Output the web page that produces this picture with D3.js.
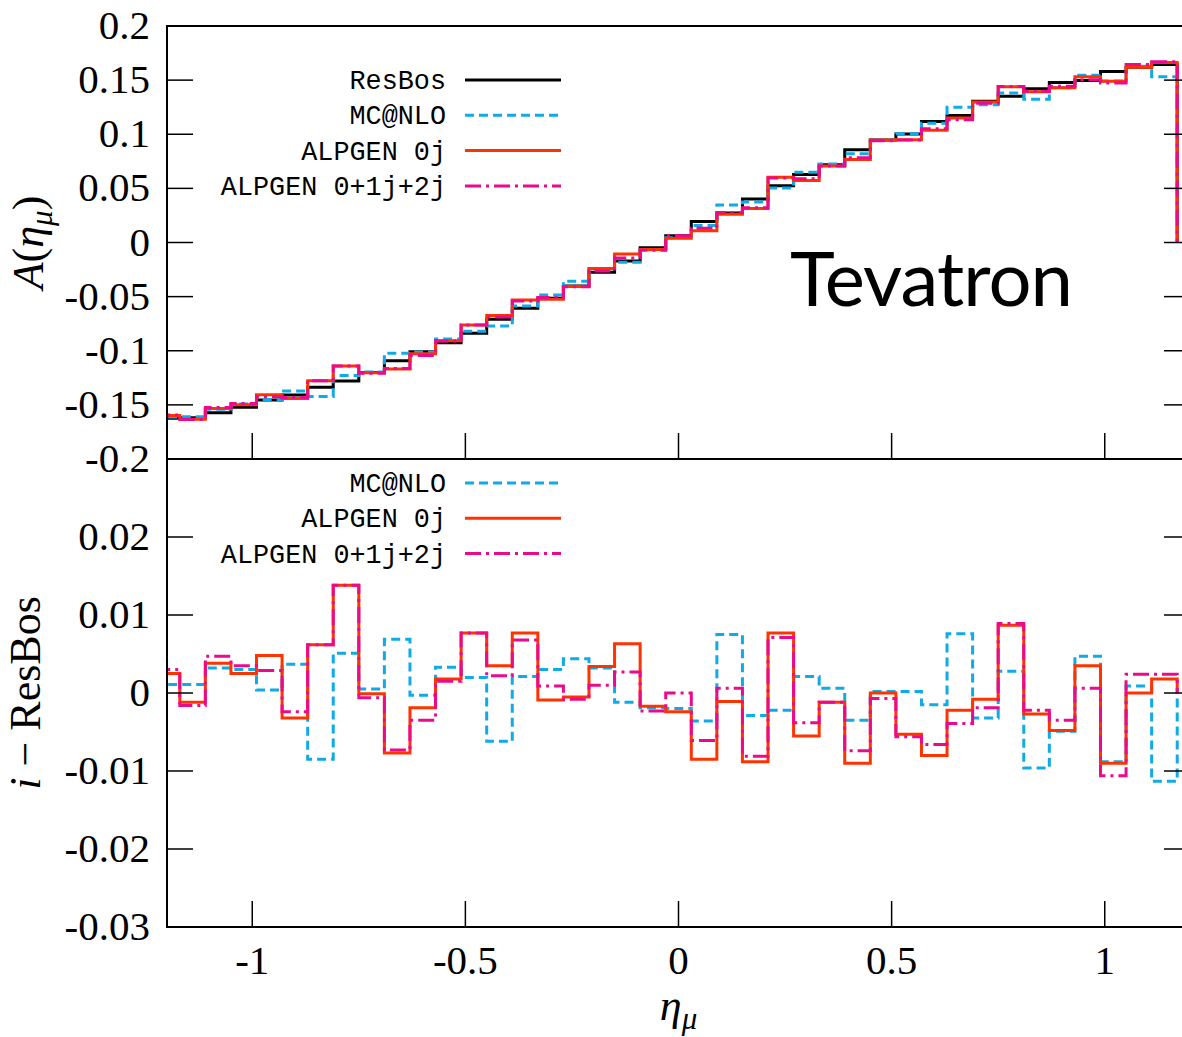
<!DOCTYPE html>
<html>
<head>
<meta charset="utf-8">
<script src="https://cdn.jsdelivr.net/npm/d3@7"></script>
<style>
  html, body { margin: 0; padding: 0; background: #fff; }
  svg { display: block; }
</style>
</head>
<body>
<svg id="chart" width="1182" height="1037"></svg>
<script>
// Bin centres in pseudorapidity (bin width 0.06)
const etaCenters = [-1.20, -1.14, -1.08, -1.02, -0.96, -0.90, -0.84, -0.78, -0.72, -0.66,
                    -0.60, -0.54, -0.48, -0.42, -0.36, -0.30, -0.24, -0.18, -0.12, -0.06,
                     0.00,  0.06,  0.12,  0.18,  0.24,  0.30,  0.36,  0.42,  0.48,  0.54,
                     0.60,  0.66,  0.72,  0.78,  0.84,  0.90,  0.96,  1.02,  1.08,  1.14];
const binWidth = 0.06;

// Muon charge asymmetry A(eta_mu)
const resbos = [-0.1624, -0.1620, -0.1572, -0.1523, -0.1455, -0.1409, -0.1338, -0.1280, -0.1202, -0.1092,
                -0.1009, -0.0925, -0.0839, -0.0710, -0.0608, -0.0516, -0.0401, -0.0274, -0.0170, -0.0048,
                 0.0063,  0.0193,  0.0272,  0.0402,  0.0525,  0.0628,  0.0719,  0.0856,  0.0947,  0.1003,
                 0.1117,  0.1173,  0.1305,  0.1352,  0.1420,  0.1478,  0.1497,  0.1580,  0.1620,  0.1645];
const mcnlo  = [-0.1613, -0.1609, -0.1540, -0.1493, -0.1451, -0.1372, -0.1423, -0.1229, -0.1197, -0.1023,
                -0.1012, -0.0892, -0.0819, -0.0772, -0.0587, -0.0486, -0.0357, -0.0242, -0.0182, -0.0067,
                 0.0043,  0.0157,  0.0347,  0.0373,  0.0503,  0.0649,  0.0725,  0.0821,  0.0949,  0.1005,
                 0.1102,  0.1249,  0.1273,  0.1380,  0.1324,  0.1429,  0.1544,  0.1492,  0.1629,  0.1532];
const alpgen0j = [-0.1599, -0.1632, -0.1534, -0.1498, -0.1407, -0.1441, -0.1276, -0.1142, -0.1203, -0.1169,
                  -0.1028, -0.0907, -0.0762, -0.0675, -0.0531, -0.0525, -0.0406, -0.0240, -0.0107, -0.0065,
                   0.0039,  0.0108,  0.0261,  0.0314,  0.0602,  0.0573,  0.0707,  0.0766,  0.0947,  0.0950,
                   0.1037,  0.1151,  0.1297,  0.1439,  0.1393,  0.1430,  0.1532,  0.1490,  0.1620,  0.1663];
const alpgen012j = [-0.1594, -0.1636, -0.1525, -0.1488, -0.1426, -0.1433, -0.1276, -0.1142, -0.1208, -0.1165,
                    -0.1044, -0.0910, -0.0762, -0.0688, -0.0540, -0.0507, -0.0409, -0.0264, -0.0143, -0.0071,
                     0.0063,  0.0132,  0.0278,  0.0321,  0.0596,  0.0590,  0.0707,  0.0782,  0.0940,  0.0947,
                     0.1051,  0.1134,  0.1286,  0.1441,  0.1398,  0.1443,  0.1503,  0.1474,  0.1644,  0.1669];

// Differences with respect to ResBos
const mcnloDiff = [ 0.0011,  0.0011,  0.0032,  0.0030,  0.0004,  0.0037, -0.0085,  0.0051,  0.0005,  0.0069,
                   -0.0003,  0.0033,  0.0020, -0.0062,  0.0021,  0.0030,  0.0044,  0.0032, -0.0012, -0.0019,
                   -0.0020, -0.0036,  0.0075, -0.0029, -0.0022,  0.0021,  0.0006, -0.0035,  0.0002,  0.0002,
                   -0.0015,  0.0076, -0.0032,  0.0028, -0.0096, -0.0049,  0.0047, -0.0088,  0.0009, -0.0113];
const alpgen0jDiff = [ 0.0025, -0.0012,  0.0038,  0.0025,  0.0048, -0.0032,  0.0062,  0.0138, -0.0001, -0.0077,
                      -0.0019,  0.0018,  0.0077,  0.0035,  0.0077, -0.0009, -0.0005,  0.0034,  0.0063, -0.0017,
                      -0.0024, -0.0085, -0.0011, -0.0088,  0.0077, -0.0055, -0.0012, -0.0090,  0.0000, -0.0053,
                      -0.0080, -0.0022, -0.0008,  0.0087, -0.0027, -0.0048,  0.0035, -0.0090,  0.0000,  0.0018];
const alpgen012jDiff = [ 0.0030, -0.0016,  0.0047,  0.0035,  0.0029, -0.0024,  0.0062,  0.0138, -0.0006, -0.0073,
                        -0.0035,  0.0015,  0.0077,  0.0022,  0.0068,  0.0009, -0.0008,  0.0010,  0.0027, -0.0023,
                         0.0000, -0.0061,  0.0006, -0.0081,  0.0071, -0.0038, -0.0012, -0.0074, -0.0007, -0.0056,
                        -0.0066, -0.0039, -0.0019,  0.0089, -0.0022, -0.0035,  0.0006, -0.0106,  0.0024,  0.0024];

// Tick values and their labels
const xTicks = [-1, -0.5, 0, 0.5, 1];
const xTickLabels = ["-1", "-0.5", "0", "0.5", "1"];
const topYTicks = [0.2, 0.15, 0.1, 0.05, 0, -0.05, -0.1, -0.15, -0.2];
const topYTickLabels = ["0.2", "0.15", "0.1", "0.05", "0", "-0.05", "-0.1", "-0.15", "-0.2"];
const botYTicks = [0.02, 0.01, 0, -0.01, -0.02, -0.03];
const botYTickLabels = ["0.02", "0.01", "0", "-0.01", "-0.02", "-0.03"];

const topSeries = [
  { name: "ResBos",          values: resbos,     color: "#000000", dash: null },
  { name: "MC@NLO",          values: mcnlo,      color: "#10AAE6", dash: "9,5" },
  { name: "ALPGEN 0j",       values: alpgen0j,   color: "#FF3300", dash: null },
  { name: "ALPGEN 0+1j+2j",  values: alpgen012j, color: "#EC0A8C", dash: "16,5,3,5" }
];
const bottomSeries = [
  { name: "MC@NLO",          values: mcnloDiff,      color: "#10AAE6", dash: "9,5" },
  { name: "ALPGEN 0j",       values: alpgen0jDiff,   color: "#FF3300", dash: null },
  { name: "ALPGEN 0+1j+2j",  values: alpgen012jDiff, color: "#EC0A8C", dash: "16,5,3,5" }
];

const svg = d3.select("#chart");
const serif = "'Liberation Serif', 'DejaVu Serif', serif";
const mono = "'Liberation Mono', 'DejaVu Sans Mono', monospace";
const tickFont = 41;
const titleFont = 44;

const left = 167, right = 1190;
const topPanel = { top: 26, bottom: 459 };
const botPanel = { top: 459, bottom: 927 };

const x = d3.scaleLinear().domain([-1.2, 1.2]).range([left, right]);
const yTop = d3.scaleLinear().domain([-0.2, 0.2]).range([topPanel.bottom, topPanel.top]);
const yBot = d3.scaleLinear().domain([-0.03, 0.03]).range([botPanel.bottom, botPanel.top]);

const defs = svg.append("defs");
defs.append("clipPath").attr("id", "clipTop").append("rect")
  .attr("x", left).attr("y", topPanel.top).attr("width", right - left).attr("height", topPanel.bottom - topPanel.top);
defs.append("clipPath").attr("id", "clipBot").append("rect")
  .attr("x", left).attr("y", botPanel.top).attr("width", right - left).attr("height", botPanel.bottom - botPanel.top);

// Histogram steps: each value spans its bin, and the last bin drops back to zero
function stepPoints(values) {
  const pts = etaCenters.map((c, i) => [c - binWidth / 2, values[i]]);
  const last = etaCenters[etaCenters.length - 1] + binWidth / 2;
  pts.push([last, values[values.length - 1]]);
  pts.push([last, 0]);
  return pts;
}

function drawPanel(series, yScale, clipId) {
  const line = d3.line().x(d => x(d[0])).y(d => yScale(d[1])).curve(d3.curveStepAfter);
  const g = svg.append("g").attr("clip-path", `url(#${clipId})`);
  series.forEach(s => {
    g.append("path")
      .attr("d", line(stepPoints(s.values)))
      .attr("fill", "none")
      .attr("stroke", s.color)
      .attr("stroke-width", 3)
      .attr("stroke-linejoin", "miter")
      .attr("stroke-dasharray", s.dash);
  });
}

drawPanel(topSeries, yTop, "clipTop");
drawPanel(bottomSeries, yBot, "clipBot");

// Frames and ticks
const tickLen = 26;
function frame(panel, yScale, yTicks, yLabels, drawXLabels) {
  const g = svg.append("g");
  g.append("rect")
    .attr("x", left).attr("y", panel.top)
    .attr("width", right - left).attr("height", panel.bottom - panel.top)
    .attr("fill", "none").attr("stroke", "#000").attr("stroke-width", 2);

  yTicks.forEach((v, i) => {
    const yy = yScale(v);
    g.append("line").attr("x1", left).attr("x2", left + tickLen).attr("y1", yy).attr("y2", yy)
      .attr("stroke", "#000").attr("stroke-width", 1.5);
    g.append("line").attr("x1", right - tickLen).attr("x2", right).attr("y1", yy).attr("y2", yy)
      .attr("stroke", "#000").attr("stroke-width", 1.5);
    g.append("text").attr("x", 150).attr("y", yy + 13)
      .attr("text-anchor", "end")
      .attr("font-family", serif).attr("font-size", tickFont)
      .text(yLabels[i]);
  });

  xTicks.forEach((v, i) => {
    const xx = x(v);
    g.append("line").attr("x1", xx).attr("x2", xx).attr("y1", panel.bottom).attr("y2", panel.bottom - tickLen)
      .attr("stroke", "#000").attr("stroke-width", 1.5);
    if (drawXLabels) {
      g.append("text").attr("x", xx).attr("y", panel.bottom + 47)
        .attr("text-anchor", "middle")
        .attr("font-family", serif).attr("font-size", tickFont)
        .text(xTickLabels[i]);
    }
  });
}
frame(topPanel, yTop, topYTicks, topYTickLabels, false);
frame(botPanel, yBot, botYTicks, botYTickLabels, true);

// Legends
function legend(series, y0) {
  const g = svg.append("g");
  series.forEach((s, i) => {
    const yy = y0 + i * 35.3;
    g.append("text").attr("x", 446).attr("y", yy + 9)
      .attr("text-anchor", "end")
      .attr("font-family", mono).attr("font-size", 26.8)
      .text(s.name);
    g.append("line").attr("x1", 465).attr("x2", 561).attr("y1", yy).attr("y2", yy)
      .attr("stroke", s.color).attr("stroke-width", 3)
      .attr("stroke-dasharray", s.dash);
  });
}
legend(topSeries, 80);
legend(bottomSeries, 483);

// Axis titles
const yTitleTop = svg.append("text")
  .attr("transform", `translate(43, ${yTop(0)}) rotate(-90)`)
  .attr("text-anchor", "middle")
  .attr("font-family", serif).attr("font-size", titleFont);
yTitleTop.append("tspan").attr("font-style", "italic").text("A");
yTitleTop.append("tspan").text("(");
yTitleTop.append("tspan").attr("font-style", "italic").text("η");
yTitleTop.append("tspan").attr("font-style", "italic").attr("font-size", 31).attr("dy", 9).text("μ");
yTitleTop.append("tspan").attr("dy", -9).text(")");

const yTitleBot = svg.append("text")
  .attr("transform", `translate(40, ${yBot(0)}) rotate(-90)`)
  .attr("text-anchor", "middle")
  .attr("font-family", serif).attr("font-size", titleFont);
yTitleBot.append("tspan").attr("font-style", "italic").text("i");
yTitleBot.append("tspan").text(" − ResBos");

const xTitle = svg.append("text")
  .attr("x", x(0)).attr("y", 1020)
  .attr("text-anchor", "middle")
  .attr("font-family", serif).attr("font-size", titleFont);
xTitle.append("tspan").attr("font-style", "italic").text("η");
xTitle.append("tspan").attr("font-style", "italic").attr("font-size", 31).attr("dy", 9).text("μ");

// Collider label
svg.append("text")
  .attr("x", 790).attr("y", 306)
  .attr("font-family", "Lato, 'Open Sans', sans-serif").attr("font-size", 76)
  .attr("textLength", 283).attr("lengthAdjust", "spacing")
  .text("Tevatron");
</script>
</body>
</html>
